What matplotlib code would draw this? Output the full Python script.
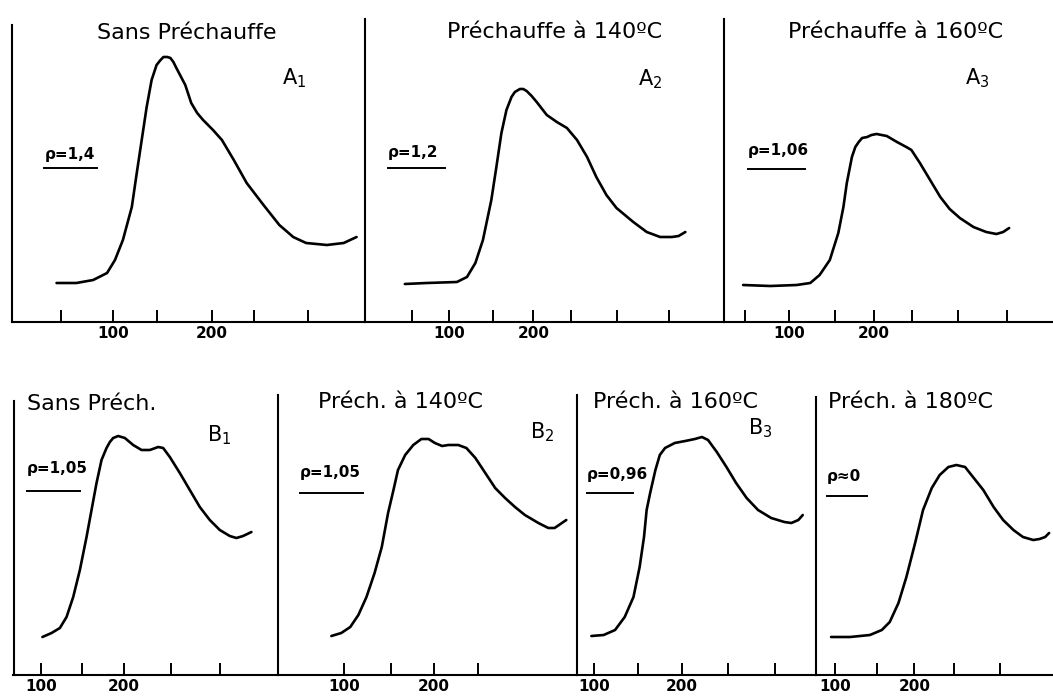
import matplotlib
matplotlib.use("Agg")
import matplotlib.pyplot as plt

plt.rcParams['font.family'] = ['DejaVu Sans']
plt.rcParams['mathtext.fontset'] = 'dejavusans'

W, H = 1053, 697

# temperature (x) and signal height (arbitrary, y)
a1_t = [43, 63, 80, 94, 102, 110, 119, 124, 129, 134, 139, 144, 148, 151, 155, 158, 161,
        164, 173, 179, 185, 191, 201, 210, 222, 235, 252, 268, 282, 295, 316, 333, 346]
a1_y = [39, 39, 42, 49, 62, 82, 115, 149, 182, 215, 242, 257, 262, 265, 265, 264, 260,
        254, 237, 219, 209, 202, 192, 182, 162, 139, 117, 97, 85, 79, 77, 79, 85]

a2_t = [47, 73, 109, 121, 131, 140, 150, 156, 162, 168, 174, 178, 184, 188, 192, 198, 204,
        216, 228, 240, 252, 264, 275, 287, 299, 319, 335, 351, 365, 373, 381]
a2_y = [38, 39, 40, 45, 59, 82, 122, 155, 189, 212, 225, 230, 233, 233, 231, 226, 220,
        207, 200, 194, 182, 165, 145, 127, 114, 100, 90, 85, 85, 86, 90]

a3_t = [46, 78, 109, 125, 136, 148, 158, 164, 168, 174, 178, 182, 186, 192, 197, 203, 215,
        227, 238, 244, 254, 266, 278, 289, 301, 317, 332, 344, 352, 359]
a3_y = [37, 36, 37, 39, 47, 62, 89, 115, 139, 165, 175, 180, 184, 185, 187, 188, 186,
        180, 175, 172, 159, 142, 125, 113, 104, 95, 90, 88, 90, 94]

b1_t = [102, 113, 123, 131, 139, 147, 155, 161, 167, 173, 179, 183, 187, 193, 201, 211, 221,
        231, 241, 247, 255, 267, 279, 291, 303, 315, 327, 335, 343, 353]
b1_y = [38, 42, 47, 58, 78, 105, 138, 165, 192, 215, 227, 233, 237, 239, 237, 230, 225,
        225, 228, 227, 218, 202, 185, 168, 155, 145, 139, 137, 139, 143]

b2_t = [86, 97, 107, 116, 125, 134, 142, 149, 155, 160, 168, 177, 186, 194, 201, 209, 216,
        227, 236, 246, 257, 268, 279, 290, 301, 316, 327, 334, 347]
b2_y = [39, 42, 48, 60, 78, 102, 128, 162, 185, 205, 220, 230, 236, 236, 232, 229, 230,
        230, 227, 217, 202, 187, 177, 168, 160, 152, 147, 147, 155]

b3_t = [97, 111, 124, 135, 145, 152, 157, 160, 164, 170, 175, 181, 192, 204, 215, 223, 230,
        240, 251, 262, 274, 287, 302, 317, 325, 333, 338]
b3_y = [39, 40, 45, 58, 78, 108, 138, 165, 182, 205, 220, 227, 232, 234, 236, 238, 235,
        223, 208, 192, 177, 165, 157, 153, 152, 155, 160]

b4_t = [95, 119, 144, 159, 169, 180, 190, 201, 211, 222, 232, 243, 253, 264, 274, 287, 300,
        312, 325, 337, 350, 358, 365, 370]
b4_y = [38, 38, 40, 45, 53, 72, 98, 132, 165, 187, 200, 208, 210, 208, 198, 185, 168,
        155, 145, 138, 135, 136, 138, 142]

# hand-drawn tick marks on each temperature axis
a1_ticks = [47, 100, 144, 200, 242, 297]
a2_ticks = [55, 100, 152, 200, 245, 300, 362]
a3_ticks = [48, 100, 154, 200, 245, 299, 356]
b1_ticks = [100, 149, 200, 256, 315]
b2_ticks = [100, 152, 200, 249]
b3_ticks = [100, 150, 200, 253, 306]
b4_ticks = [100, 153, 200, 250, 308]

titles = ['Sans Préchauffe', 'Préchauffe à 140ºC', 'Préchauffe à 160ºC',
          'Sans Préch.', 'Préch. à 140ºC', 'Préch. à 160ºC', 'Préch. à 180ºC']
names = ['A$_1$', 'A$_2$', 'A$_3$', 'B$_1$', 'B$_2$', 'B$_3$', None]
rhos = ['ρ=1,4', 'ρ=1,2', 'ρ=1,06', 'ρ=1,05', 'ρ=1,05', 'ρ=0,96', 'ρ≈0']

curves = [(a1_t, a1_y), (a2_t, a2_y), (a3_t, a3_y),
          (b1_t, b1_y), (b2_t, b2_y), (b3_t, b3_y), (b4_t, b4_y)]
ticks = [a1_ticks, a2_ticks, a3_ticks, b1_ticks, b2_ticks, b3_ticks, b4_ticks]

# layout in pixels: left, top, right, bottom ; x limits
boxes = [(12, 25, 365, 322), (365, 19, 724, 322), (724, 19, 1053, 322),
         (13.5, 401, 278, 675), (278, 395, 577, 675), (577, 395, 816, 675), (816, 397, 1053, 675)]
xlims = [(-2, 354.5), (-0.4, 427), (23.5, 410.6),
         (67.3, 384.9), (26.7, 358.9), (80.6, 353.1), (76, 374.9)]
title_pos = [(97, 33), (447, 32), (788, 32), (27, 404), (318, 402), (593, 402), (828, 402)]
name_pos = [(282, 78), (638, 79), (965, 78), (207, 435), (530, 432), (748, 428), None]
rho_pos = [(45, 155), (388, 152), (748, 150), (27, 468), (300, 472), (587, 475), (827, 476)]
rho_line = [(44, 97, 168), (388, 445, 168), (748, 805, 169),
            (27, 80, 491), (300, 363, 493), (587, 633, 493), (827, 867, 496)]


def fx(x):
    return x / W


def fy(y):
    return 1 - y / H


fig = plt.figure(figsize=(W / 100, H / 100), dpi=100)

for i in range(7):
    l, t, r, b = boxes[i]
    ax = fig.add_axes([fx(l), fy(b), (r - l) / W, (b - t) / H])
    ax.patch.set_alpha(0)
    x, y = curves[i]
    ax.plot(x, y, color='black', lw=1.9, solid_capstyle='round', solid_joinstyle='round')
    ax.set_xlim(xlims[i])
    ax.set_ylim(0, b - t)
    for s in ['top', 'right']:
        ax.spines[s].set_visible(False)
    for s in ['left', 'bottom']:
        ax.spines[s].set_linewidth(1.5)
    ax.set_yticks([])
    ax.set_xticks(ticks[i])
    ax.set_xticklabels([str(v) if v in (100, 200) else '' for v in ticks[i]],
                       fontsize=11, fontweight='bold')
    ax.tick_params(axis='x', direction='in', length=9, width=1.4, pad=3)

    tx, ty = title_pos[i]
    fig.text(fx(tx), fy(ty), titles[i], fontsize=16, ha='left', va='center')
    if names[i]:
        nx, ny = name_pos[i]
        fig.text(fx(nx), fy(ny), names[i], fontsize=15, ha='left', va='center')
    rx, ry = rho_pos[i]
    fig.text(fx(rx), fy(ry), rhos[i], fontsize=11, fontweight='bold', ha='left', va='center')
    x0, x1, yl = rho_line[i]
    fig.add_artist(plt.Line2D([fx(x0), fx(x1)], [fy(yl), fy(yl)], color='black', lw=1.4))

fig.savefig('out.png', dpi=100)
